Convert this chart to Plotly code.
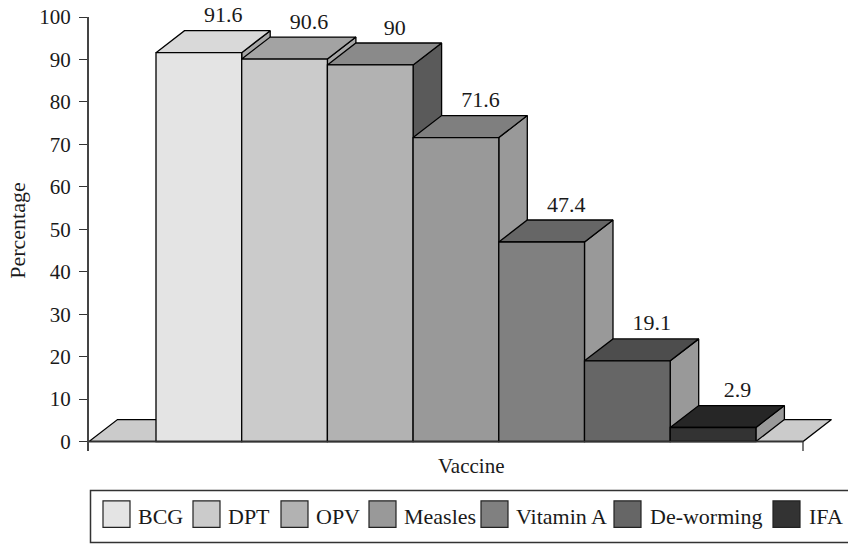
import plotly.graph_objects as go

vaccines = ["BCG", "DPT", "OPV", "Measles", "Vitamin A", "De-worming", "IFA"]
# Bar heights as drawn in the picture; the printed labels differ slightly for some bars
bar_heights = [91.6, 90.1, 88.7, 71.6, 47.0, 19.0, 3.3]
labels = ["91.6", "90.6", "90", "71.6", "47.4", "19.1", "2.9"]
front_colors = ["#e4e4e4", "#cbcbcb", "#b2b2b2", "#999999", "#808080", "#666666", "#333333"]
top_colors = ["#d9d9d9", "#a3a3a3", "#8a8a8a", "#7f7f7f", "#666666", "#4d4d4d", "#262626"]
side_colors = ["#a6a6a6", "#a6a6a6", "#5a5a5a", "#999999", "#999999", "#999999", "#999999"]
y_ticks = list(range(0, 101, 10))

FONT = "Liberation Serif"
INK = "#1a1a1a"
W, H = 848, 545
L, R, T, B = 89, 833, 17, 451.5
UNIT_Y = 4.25          # pixels per percentage point
BAR_PX = 85.7          # pixels per bar
DX = 28.5 / BAR_PX     # depth offset in bar units
DY = 22 / UNIT_Y       # depth offset in percentage units
x_min = -0.5 - (156 - L) / BAR_PX
x_max = x_min + (R - L) / BAR_PX
x_end = x_min + (803 - L) / BAR_PX
y_min = -(B - 442) / UNIT_Y
y_max = 100


def px(x):
    return (x - L) / (R - L)


def py(y):
    return (B - y) / (B - T)


fig = go.Figure()

# Floor of the 3-D box
fig.add_trace(go.Scatter(
    x=[x_min, x_min + DX, x_end + DX, x_end, x_min],
    y=[0, DY, DY, 0, 0],
    mode="lines", fill="toself", fillcolor="#cbcbcb",
    line=dict(color="black", width=1.3), hoverinfo="skip", showlegend=False,
))

# Top and side faces, back layer
for i, v in enumerate(bar_heights):
    l, r = i - 0.5, i + 0.5
    fig.add_trace(go.Scatter(
        x=[r, r + DX, r + DX, r, r], y=[0, DY, v + DY, v, 0],
        mode="lines", fill="toself", fillcolor=side_colors[i],
        line=dict(color="black", width=1.3), hoverinfo="skip", showlegend=False,
    ))
    fig.add_trace(go.Scatter(
        x=[l, l + DX, r + DX, r, l], y=[v, v + DY, v + DY, v, v],
        mode="lines", fill="toself", fillcolor=top_colors[i],
        line=dict(color="black", width=1.3), hoverinfo="skip", showlegend=False,
    ))

# Front faces on an overlaid pair of axes, so they sit over the depth faces
fig.add_trace(go.Bar(
    x=list(range(len(vaccines))), y=bar_heights, width=1,
    marker=dict(color=front_colors, line=dict(color="black", width=1.3)),
    customdata=list(zip(vaccines, labels)),
    hovertemplate="%{customdata[0]}: %{customdata[1]}<extra></extra>",
    xaxis="x2", yaxis="y2", showlegend=False,
))

# Baseline and right end tick
fig.add_trace(go.Scatter(
    x=[x_min, x_end, x_end], y=[0, 0, y_min],
    mode="lines", line=dict(color="#333333", width=1.3),
    hoverinfo="skip", showlegend=False, xaxis="x2", yaxis="y2",
))

# Value labels, anchored just above the back edge of each top face
fig.add_trace(go.Scatter(
    x=[i + 24.5 / BAR_PX for i in range(len(bar_heights))],
    y=[v + DY + 0.7 for v in bar_heights],
    text=labels, mode="text", textposition="top center",
    textfont=dict(family=FONT, size=22, color=INK),
    cliponaxis=False, hoverinfo="skip", showlegend=False, xaxis="x2", yaxis="y2",
))

shapes = [dict(type="rect", xref="paper", yref="paper",
               x0=px(90.5), x1=px(852), y0=py(543), y1=py(491),
               line=dict(color="#333333", width=1.5))]
annotations = [
    dict(text="Vaccine", xref="paper", yref="paper", x=px(471), y=py(467),
         xanchor="center", yanchor="middle", showarrow=False,
         font=dict(family=FONT, size=21, color=INK)),
    dict(text="Percentage", xref="paper", yref="paper", x=px(18), y=py(231),
         xanchor="center", yanchor="middle", textangle=-90, showarrow=False,
         font=dict(family=FONT, size=22, color=INK)),
]

swatch_left = [103, 193, 281, 369, 481, 614, 773]
text_left = [136, 226, 314, 402, 514, 648, 807]
for name, color, sx, tx in zip(vaccines, front_colors, swatch_left, text_left):
    shapes.append(dict(type="rect", xref="paper", yref="paper",
                       x0=px(sx), x1=px(sx + 27), y0=py(528), y1=py(501.5),
                       fillcolor=color, line=dict(color="#222222", width=1.2)))
    annotations.append(dict(text=name, xref="paper", yref="paper", x=px(tx), y=py(517),
                            xanchor="left", yanchor="middle", showarrow=False,
                            font=dict(family=FONT, size=22, color=INK)))

hidden = dict(visible=False, fixedrange=True)
fig.update_layout(
    width=W, height=H, autosize=False, barmode="overlay",
    margin=dict(l=L, r=W - R, t=T, b=H - B, pad=0, autoexpand=False),
    paper_bgcolor="white", plot_bgcolor="white", showlegend=False,
    shapes=shapes, annotations=annotations,
    xaxis=dict(range=[x_min, x_max], **hidden),
    xaxis2=dict(range=[x_min, x_max], overlaying="x", **hidden),
    yaxis=dict(
        range=[y_min, y_max], tickmode="array", tickvals=y_ticks, fixedrange=True,
        ticks="outside", ticklen=8, tickwidth=1.3, tickcolor="#333333",
        ticklabelstandoff=4,
        showline=True, linecolor="#444444", linewidth=2, showgrid=False, zeroline=False,
        tickfont=dict(family=FONT, size=21, color=INK),
    ),
    yaxis2=dict(range=[y_min, y_max], overlaying="y", **hidden),
)

fig.write_html("out.html", config=dict(displayModeBar=False),
               post_script="document.body.style.margin='0';document.body.style.overflow='hidden';")
